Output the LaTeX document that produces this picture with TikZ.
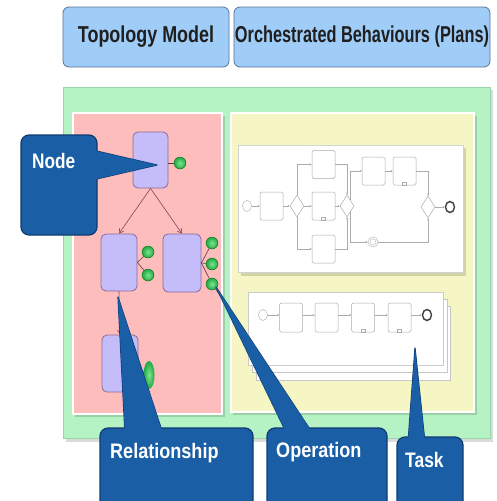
\documentclass[tikz,border=0pt]{standalone}
\usepackage{fontspec}
\setmainfont{Liberation Sans}
\usetikzlibrary{shapes.geometric,arrows.meta}
\definecolor{tbblue}{HTML}{A0CDF7}
\definecolor{tbborder}{HTML}{5A7595}
\definecolor{mint}{HTML}{B5F2C4}
\definecolor{mintb}{HTML}{9AD4A8}
\definecolor{pinkc}{HTML}{FDBDBD}
\definecolor{yelc}{HTML}{F6F6C4}
\definecolor{lav}{HTML}{C5BCFA}
\definecolor{lavb}{HTML}{8A6A98}
\definecolor{relc}{HTML}{7A4A5A}
\definecolor{cblue}{HTML}{1A5EA6}
\definecolor{cborder}{HTML}{0E3C72}
\definecolor{dotin}{HTML}{7EE68C}
\definecolor{dotout}{HTML}{1EA844}
\begin{document}
\begin{tikzpicture}[x=1pt,y=-1pt,
  titlebox/.style={rectangle, rounded corners=6pt, fill=tbblue, draw=tbborder, line width=0.8pt,
    inner sep=0pt, font=\fontsize{23}{25}\selectfont\bfseries, text=black!88},
  shadowc/.style={fill=black, opacity=0.14},
  tnode/.style={rectangle, rounded corners=5pt, fill=lav, draw=lavb, line width=0.8pt,
    minimum width=36pt, minimum height=57pt, inner sep=0pt},
  gdot/.style={circle, minimum size=12pt, inner sep=0pt, inner color=dotin, outer color=dotout, draw=green!40!black, line width=0.3pt},
  rel/.style={draw=relc, line width=0.6pt, -{Straight Barb[length=4pt,width=5pt]}},
  opl/.style={draw=relc!80!black, line width=0.6pt},
  callbox/.style={rectangle, rounded corners=8pt, fill=cblue, draw=cborder, line width=1.2pt, inner sep=0pt},
  wedgeb/.style={fill=cblue, draw=cborder, line width=1.2pt, line join=round},
  wedgef/.style={fill=cblue},
  ctext/.style={anchor=base west, inner sep=0pt, text=white, font=\fontsize{21}{23}\selectfont\bfseries},
  bt/.style={rectangle, rounded corners=1.5pt, draw=gray!65, fill=white, line width=0.5pt,
    minimum width=23pt, minimum height=28pt, inner sep=0pt},
  bg/.style={diamond, draw=gray!65, fill=white, line width=0.5pt, minimum width=14pt, minimum height=22pt, inner sep=0pt},
  bs/.style={ellipse, draw=gray!55, fill=white, line width=0.5pt, minimum width=9pt, minimum height=11pt, inner sep=0pt},
  be/.style={ellipse, draw=black!75, fill=white, line width=1.4pt, minimum width=9pt, minimum height=11pt, inner sep=0pt},
  bl/.style={draw=gray!65, line width=0.5pt, -{Stealth[length=2pt,width=2pt]}},
  mk/.style={draw=gray!65, line width=0.4pt}
]
\useasboundingbox (0,0) rectangle (496,501);
\clip (0,0) rectangle (496,501);
\fill[white] (0,0) rectangle (496,501);

% title boxes
\node[titlebox, minimum width=166pt, minimum height=60pt] (tm) at (146,37) {\scalebox{0.78}[1]{Topology Model}};
\node[titlebox, minimum width=256pt, minimum height=60pt] (ob) at (362,37) {\scalebox{0.71}[1]{Orchestrated Behaviours (Plans)}};

% containers
\fill[shadowc] (66,90) rectangle (493,442);
\filldraw[fill=mint, draw=mintb, line width=0.8pt] (63,87) rectangle (490,438);
\fill[shadowc] (75,116) rectangle (225,417);
\filldraw[fill=pinkc, draw=white, line width=1.4pt] (73,113) rectangle (222,414);
\fill[shadowc] (233,116) rectangle (477,415);
\filldraw[fill=yelc, draw=white, line width=1.4pt] (231,113) rectangle (474,412);

% upper BPMN panel
\fill[shadowc] (241,148) rectangle (466,276);
\filldraw[fill=white, draw=gray!35, line width=0.5pt] (238,145) rectangle (463,272);
\node[bs] (s1) at (247,206) {};
\node[bt] (t1) at (271.5,206) {};
\node[bg] (g1) at (297,206) {};
\node[bt] (ta) at (323.5,164.5) {};
\node[bt] (tb) at (323.5,206) {};
\node[bt] (tc) at (323.5,249) {};
\node[bg] (g2) at (347,206) {};
\node[bt] (td) at (373.5,171) {};
\node[bt] (te) at (404.5,171) {};
\node[bg] (g3) at (428,207) {};
\node[be] (e1) at (450,207) {};
\node[bs, minimum width=10pt, minimum height=10pt] (ie) at (373,242) {};
\node[circle, draw=gray!55, minimum size=6pt, inner sep=0pt] (ie2) at (ie) {};
\draw[bl] (s1) -- (t1);
\draw[bl] (t1) -- (g1);
\draw[bl] (g1.north) |- (ta.west);
\draw[bl] (g1.east) -- (tb.west);
\draw[bl] (g1.south) |- (tc.west);
\draw[bl] (ta.east) -| (g2.north);
\draw[bl] (tb.east) -- (g2.west);
\draw[bl] (tc.east) -| (g2.south);
\draw[bl] (g2.north east) |- (td.west);
\draw[bl] (td.east) -- (te.west);
\draw[bl] (te.east) -| (g3.north);
\draw[bl] (g2.south east) |- (ie.west);
\draw[bl] (ie.east) -| (g3.south);
\draw[bl] (g3.east) -- (e1.west);
\draw[mk] ([xshift=-2pt]tb.south) rectangle ([xshift=2pt,yshift=3pt]tb.south);
\draw[mk] ([xshift=-2pt]te.south) rectangle ([xshift=2pt,yshift=3pt]te.south);

% lower stacked panel
\filldraw[fill=white, draw=gray!45, line width=0.5pt] (256,306) rectangle (450,380);
\filldraw[fill=white, draw=gray!45, line width=0.5pt] (252,299) rectangle (447,372);
\filldraw[fill=white, draw=gray!40, line width=0.5pt] (248,292) rectangle (443,365);
\node[bs] (ls) at (263,315) {};
\node[bt, minimum height=29pt] (l1) at (291,317.5) {};
\node[bt, minimum height=29pt] (l2) at (326.5,317.5) {};
\node[bt, minimum height=29pt] (l3) at (363,317.5) {};
\node[bt, minimum height=29pt] (l4) at (399.5,317.5) {};
\node[be] (le) at (427,315) {};
\draw[bl] (ls) -- (ls -| l1.west);
\draw[bl] (l1.east |- ls) -- (ls -| l2.west);
\draw[bl] (l2.east |- ls) -- (ls -| l3.west);
\draw[bl] (l3.east |- ls) -- (ls -| l4.west);
\draw[bl] (l4.east |- ls) -- (le);
\draw[mk] ([xshift=-2pt]l3.south) rectangle ([xshift=2pt,yshift=3pt]l3.south);
\draw[mk] ([xshift=-2pt]l4.south) rectangle ([xshift=2pt,yshift=3pt]l4.south);

% topology
\node[tnode, minimum width=35pt, minimum height=56pt] (n1) at (150.5,160) {};
\node[tnode] (n2) at (119,262.5) {};
\node[tnode, minimum width=38pt, minimum height=58pt] (n3) at (182,263) {};
\node[tnode] (n4) at (120,363.5) {};
\node[gdot] (d1) at (180,163) {};
\node[gdot] (d2a) at (148,252) {};
\node[gdot] (d2b) at (148,275) {};
\node[gdot] (d3a) at (212,243) {};
\node[gdot] (d3b) at (212,264) {};
\node[gdot] (d3c) at (212,284) {};
\node[ellipse, minimum width=11pt, minimum height=28pt, inner sep=0pt, inner color=dotin, outer color=dotout] (d4) at (149,375) {};
\draw[rel] (n1.south) -- (n2.north);
\draw[rel] (n1.south) -- (n3.north);
\draw[rel] (n2.south) -- (n4.north);
\draw[opl] (n1.east |- d1) -- (d1);
\draw[opl] (n2.east) -- (d2a);
\draw[opl] (n2.east) -- (d2b);
\draw[opl] (n3.east) -- (d3a);
\draw[opl] (n3.east) -- (d3b);
\draw[opl] (n3.east) -- (d3c);
\draw[opl] (d3c) -- (224,301);

% callouts
\coordinate (nodeTip) at (157,165);
\coordinate (relTip) at (118,297);
\coordinate (opTip) at (216,287);
\coordinate (taskTip) at (415,348);

\draw[wedgeb] (92,150) -- (nodeTip) -- (92,180) -- cycle;
\node[callbox, minimum width=76pt, minimum height=100pt] (nodeC) at (59,185) {};
\fill[wedgef] (92,150) -- (nodeTip) -- (92,180) -- cycle;
\node[ctext] (nodeT) at (32,168) {\scalebox{0.82}[1]{Node}};

\draw[wedgeb] (125,434) -- (relTip) -- (163,434) -- cycle;
\node[callbox, minimum width=153pt, minimum height=90pt] (relC) at (176.5,473) {};
\fill[wedgef] (125,434) -- (relTip) -- (163,434) -- cycle;
\node[ctext] (relT) at (110,458) {\scalebox{0.86}[1]{Relationship}};

\draw[wedgeb] (287,434) -- (opTip) -- (313,434) -- cycle;
\node[callbox, minimum width=120pt, minimum height=90pt] (opC) at (327,473) {};
\fill[wedgef] (287,434) -- (opTip) -- (313,434) -- cycle;
\node[ctext] (opT) at (276,457) {\scalebox{0.86}[1]{Operation}};

\draw[wedgeb] (408,443) -- (taskTip) -- (425,443) -- cycle;
\node[callbox, minimum width=66pt, minimum height=80pt] (taskC) at (430,477) {};
\fill[wedgef] (408,443) -- (taskTip) -- (425,443) -- cycle;
\node[ctext] (taskT) at (405,467) {\scalebox{0.83}[1]{Task}};
\end{tikzpicture}
\end{document}
